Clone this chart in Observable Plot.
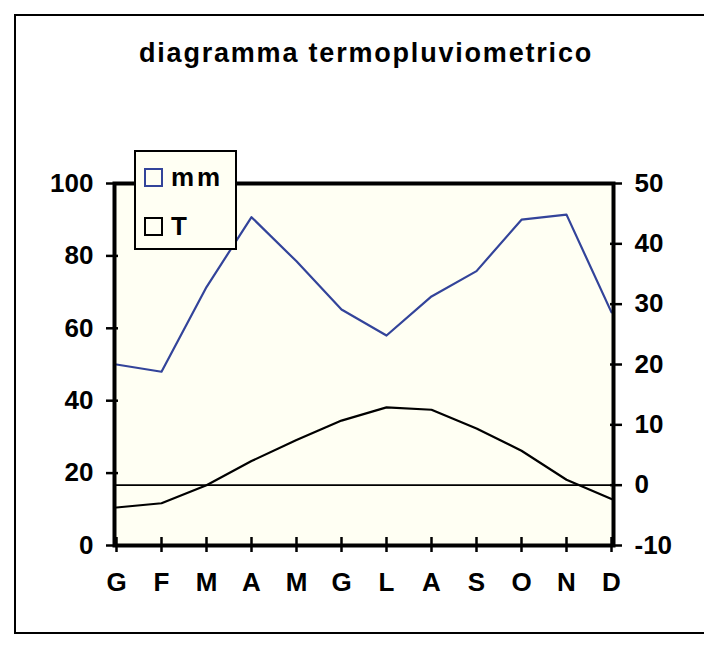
<!DOCTYPE html>
<html>
<head>
<meta charset="utf-8">
<script src="https://cdn.jsdelivr.net/npm/d3@7"></script>
<script src="https://cdn.jsdelivr.net/npm/@observablehq/plot@0.6"></script>
<style>
  html, body { margin: 0; padding: 0; background: #fff; }
  #wrap { position: relative; width: 704px; height: 650px; overflow: hidden; font-family: "Liberation Sans", Arial, sans-serif; font-weight: bold; }
  #wrap svg { position: absolute; left: 0; top: 0; }
  #border { position: absolute; left: 14px; top: 14px; width: 760px; height: 620px; border: 2px solid #000; box-sizing: border-box; }
  #title { position: absolute; left: 0; width: 732px; top: 38px; text-align: center; font-size: 27px; letter-spacing: 1.8px; color: #000; }
  #legend { position: absolute; left: 134px; top: 150px; width: 103px; height: 100px; box-sizing: border-box; border: 2px solid #000; background: #FFFFF3; }
  .item { position: absolute; left: 8px; display: flex; align-items: center; font-size: 26px; letter-spacing: 3px; }
  .sw { width: 19px; height: 19px; box-sizing: border-box; border: 2px solid; margin-right: 8px; }
</style>
</head>
<body>
<div id="wrap">
  <div id="border"></div>
  <div id="title">diagramma termopluviometrico</div>
</div>
<script>
const months = ["G","F","M","A","M","G","L","A","S","O","N","D"];
const mm = [50, 48, 71.4, 90.7, 78.5, 65.2, 58, 68.8, 75.8, 90, 91.4, 64.4];
const temp = [-3.7, -3.0, 0.0, 4.0, 7.5, 10.7, 12.9, 12.5, 9.4, 5.7, 0.9, -2.3];
const mmTicks = [0, 20, 40, 60, 80, 100];
const tTicks = [-10, 0, 10, 20, 30, 40, 50];
const seriesNames = ["mm", "T"];
const seriesColors = ["#33449A", "#000000"];

// right axis (T, -10..50) mapped onto left scale (mm, 0..100)
const toMm = t => (t + 10) * 100 / 60;
const toT = v => Math.round(v * 60 / 100 - 10);

const idx = months.map((_, i) => i);
const mmData = idx.map(i => ({i, v: mm[i]}));
const tData = idx.map(i => ({i, v: toMm(temp[i])}));

const chart = Plot.plot({
  width: 704,
  height: 650,
  marginLeft: 114,
  marginRight: 91,
  marginTop: 183,
  marginBottom: 105,
  style: {fontFamily: "'Liberation Sans', Arial, sans-serif", fontWeight: "bold", fontSize: "26px", color: "#000", background: "transparent"},
  x: {type: "point", domain: idx, padding: 0, axis: null},
  y: {domain: [0, 100], axis: null},
  marks: [
    Plot.frame({fill: "#FFFFF3"}),
    Plot.ruleY([toMm(0)], {stroke: "#000", strokeWidth: 1.6}),
    Plot.line(tData, {x: "i", y: "v", stroke: seriesColors[1], strokeWidth: 2.2}),
    Plot.line(mmData, {x: "i", y: "v", stroke: seriesColors[0], strokeWidth: 2.2}),
    Plot.frame({stroke: "#000", strokeWidth: 4}),
    // left axis
    Plot.axisY({anchor: "left", ticks: mmTicks, tickSize: 12, dx: 4, strokeWidth: 2.5, tickFormat: () => "", label: null}),
    Plot.axisY({anchor: "left", ticks: mmTicks, tickSize: 0, tickPadding: 21, fontSize: 26, fontWeight: "bold", fill: "#000", label: null}),
    // right axis
    Plot.axisY({anchor: "right", ticks: tTicks.map(toMm), tickSize: 12, dx: -4, strokeWidth: 2.5, tickFormat: () => "", label: null}),
    Plot.axisY({anchor: "right", ticks: tTicks.map(toMm), tickSize: 0, tickPadding: 21, tickFormat: toT, fontSize: 26, fontWeight: "bold", fill: "#000", label: null}),
    // x axis
    Plot.axisX({ticks: idx, tickSize: 15, dy: -8, strokeWidth: 2.5, tickFormat: () => "", label: null}),
    Plot.axisX({ticks: idx, tickSize: 0, tickPadding: 27, tickFormat: i => months[i], fontSize: 26, fontWeight: "bold", fill: "#000", label: null})
  ]
});
document.getElementById("wrap").appendChild(chart);

// legend
const legend = document.createElement("div");
legend.id = "legend";
seriesNames.forEach((name, k) => {
  const it = document.createElement("div");
  it.className = "item";
  it.style.top = (k === 0 ? 10 : 59) + "px";
  const sw = document.createElement("div");
  sw.className = "sw";
  sw.style.borderColor = seriesColors[k];
  it.appendChild(sw);
  const tx = document.createElement("span");
  tx.textContent = name;
  it.appendChild(tx);
  legend.appendChild(it);
});
document.getElementById("wrap").appendChild(legend);
</script>
</body>
</html>
